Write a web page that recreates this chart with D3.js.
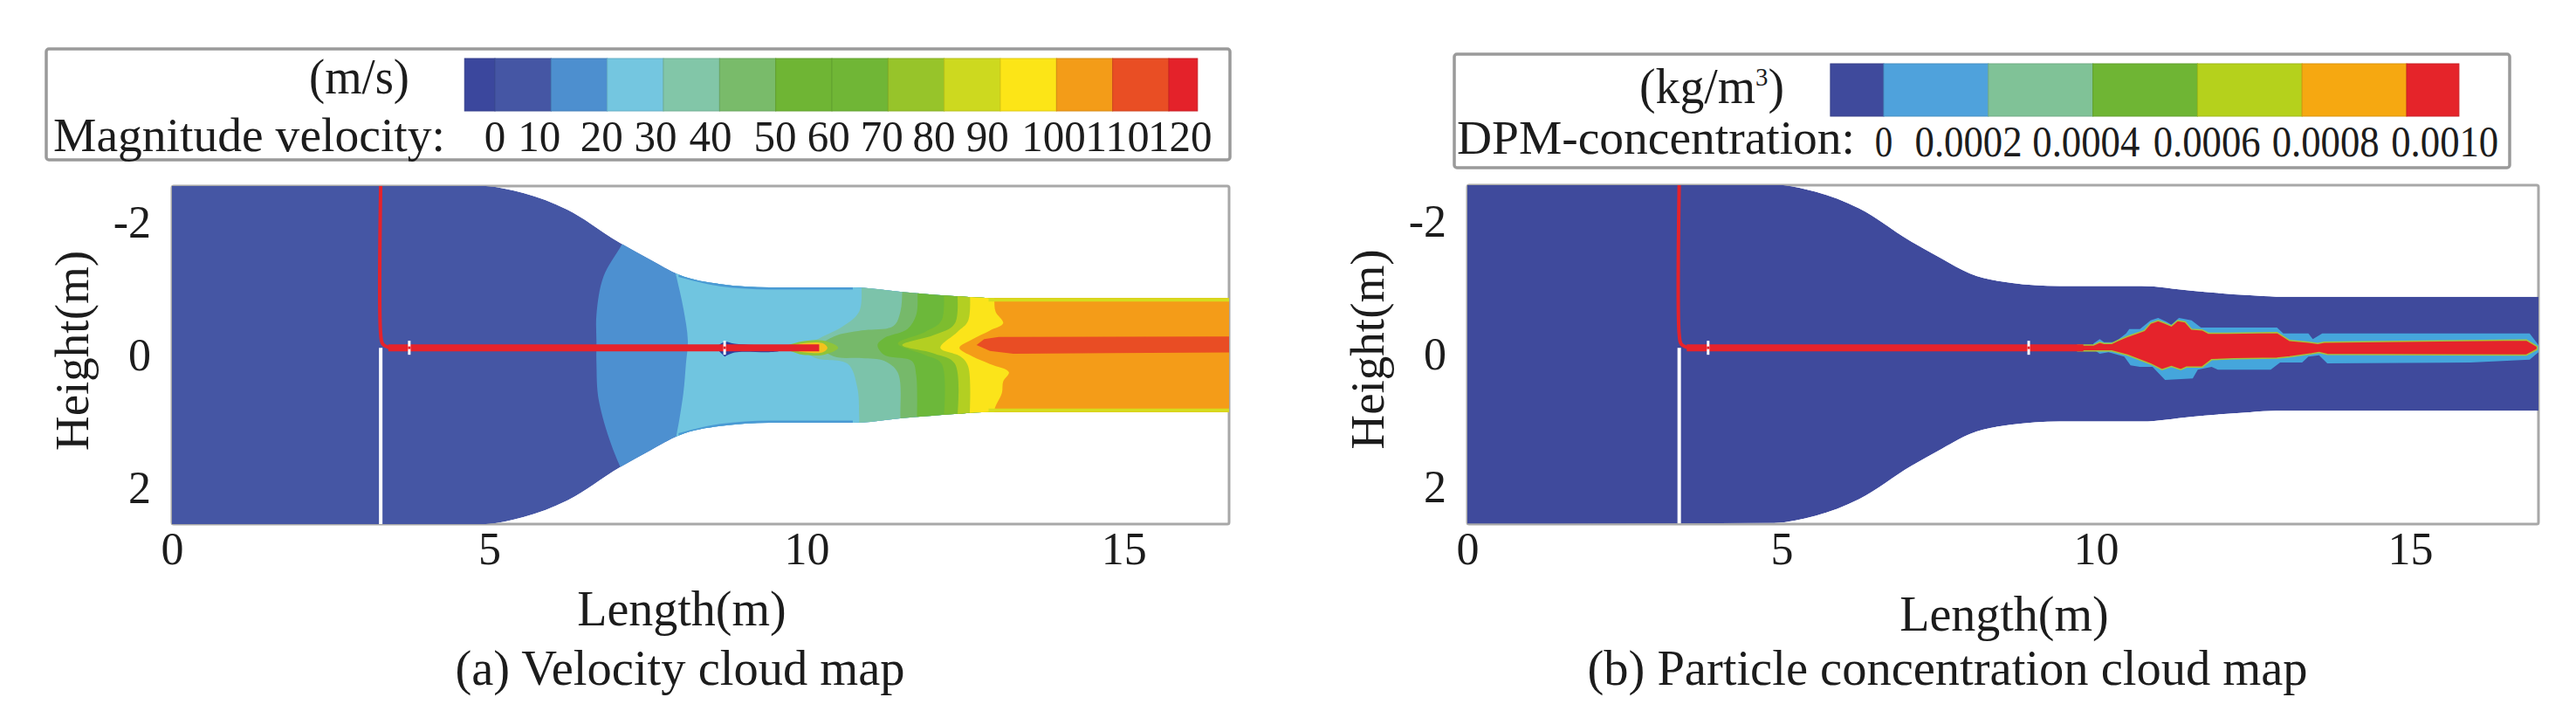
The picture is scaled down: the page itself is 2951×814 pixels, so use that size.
<!DOCTYPE html>
<html lang="en">
  <head>
    <meta charset="UTF-8" />
    <title>velocity and particle concentration cloud maps</title>
    <style>
      body { margin: 0; background: #fff; }
      text { font-family: "Liberation Serif", serif; fill: #1c1c1c; }
    </style>
  </head>
  <body>
    <svg id="svg" width="2951" height="814"></svg>

    <script src="https://d3js.org/d3.v7.min.js"></script>
    <script>
      // duct half height (m) along the length (m), same for both panels
      const wallLength = [0, 4.83, 5.54, 6.23, 7.06, 7.55, 7.99, 8.64, 9.42, 10.73, 11.51, 12.45, 12.87, 17.2];
      const wallHalf = [2.56, 2.55, 2.44, 2.19, 1.69, 1.43, 1.21, 1.07, 1.02, 1.02, 0.95, 0.88, 0.86, 0.86];

      // velocity legend
      const velocityBreaks = [-5.4, 0, 10, 20, 30, 40, 50, 60, 70, 80, 90, 100, 110, 120, 125.1];
      const velocityColors = ["#3b479d", "#4556a4", "#4d8fcf", "#74c6e0", "#82c6a8", "#79bb6a", "#6fb534", "#70b636", "#97c42a", "#cdd91f", "#fce517", "#f39c18", "#e94e24", "#e4222a"];
      const velocityLabels = ["0", "10", "20", "30", "40", "50", "60", "70", "80", "90", "100", "110", "120"];
      const velocityLabelAt = [0, 7.9, 19, 28.6, 38.4, 49.9, 59.4, 68.9, 78.2, 87.7, 99.5, 110.8, 122];

      // concentration legend
      const concBreaks = [-0.000102, 0, 0.0002, 0.0004, 0.0006, 0.0008, 0.001, 0.0011];
      const concColors = ["#3f4a9c", "#4fa2dc", "#80c297", "#6fb534", "#b5d11c", "#f6a811", "#e5242a"];
      const concLabels = ["0", "0.0002", "0.0004", "0.0006", "0.0008", "0.0010"];
      const concLabelAt = [0, 0.000162, 0.000387, 0.000618, 0.000845, 0.001073];

      // velocity contours [length, height], each one the start of a band going downstream
      const contour20 = [[7.4, -2.2], [7.09, -1.665], [6.8, -1.18], [6.69, -0.61], [6.69, -0.196], [6.69, 0.133], [6.73, 0.7], [7.05, 1.65], [7.4, 2.2]];
      const contour30 = [[7.85, -1.6], [7.95, -1.18], [8.06, -0.7], [8.13, -0.22], [8.1, 0.133], [8.06, 0.57], [7.95, 1.21], [7.85, 1.6]];
      const contour40 = [[10.87, -1.3], [10.87, -1.05], [10.83, -0.656], [10.58, -0.437], [10.22, -0.26], [9.93, -0.108], [10.15, 0.046], [10.65, 0.133], [10.8, 0.484], [10.83, 0.92], [10.83, 1.3]];
      const contour50 = [[11.51, -1.3], [11.51, -1], [11.48, -0.656], [11.37, -0.437], [10.87, -0.371], [10.44, -0.283], [10.22, -0.13], [10.44, 0.024], [10.87, 0.046], [11.23, 0.09], [11.44, 0.265], [11.48, 0.92], [11.48, 1.3]];
      const contour60 = [[11.75, -1.3], [11.75, -1], [11.73, -0.61], [11.59, -0.393], [11.23, -0.26], [11.12, -0.15], [11.23, 0], [11.66, 0.09], [11.73, 0.31], [11.73, 1.3]];
      const contour70 = [[12.13, -1.3], [12.13, -0.525], [11.87, -0.349], [11.44, -0.174], [11.87, 0], [12.13, 0.133], [12.13, 1.3]];
      const contour80 = [[12.34, -1.3], [12.34, -0.48], [12.02, -0.305], [11.51, -0.15], [12.02, -0.02], [12.34, 0.133], [12.34, 1.3]];
      const contour90 = [[12.55, -1.3], [12.55, -0.524], [12.38, -0.35], [12.11, -0.107], [12.43, 0.024], [12.55, 0.178], [12.55, 1.3]];
      const contour100 = [[12.96, -1.3], [12.96, -0.84], [12.98, -0.656], [13.1, -0.48], [12.89, -0.37], [12.62, -0.24], [12.41, -0.107], [12.62, 0.024], [12.89, 0.134], [13.19, 0.257], [13.1, 0.397], [13.08, 0.57], [12.96, 0.836], [12.96, 1.3]];
      const contours = [contour20, contour30, contour40, contour50, contour60, contour70, contour80, contour90, contour100];
      const contourColors = ["#4d90d0", "#70c5e0", "#7cc3aa", "#76b96a", "#6cb83a", "#7dbd2f", "#b3cf22", "#fbe41a", "#f49c18"];
      const jetCore = [[12.68, -0.151], [12.8, -0.24], [13.03, -0.274], [17.2, -0.28], [17.2, -0.042], [13.26, -0.02], [12.89, -0.063]];

      // what sits round the injector tip in the velocity map
      const spindle = [[8.57, -0.11], [8.71, -0.2], [8.87, -0.17], [9.5, -0.135], [9.75, -0.11], [9.5, -0.05], [8.87, -0.04], [8.71, 0.024]];
      const tipHalo = [[9.6, -0.11], [9.9, -0.2], [10.25, -0.22], [10.5, -0.11], [10.25, 0], [9.9, -0.01]];
      const tipGlow = [[9.7, -0.11], [9.9, -0.17], [10.25, -0.18], [10.33, -0.11], [10.25, -0.04], [9.9, -0.05]];

      // particle plume
      const plumeOuter = [[9.96, -0.153], [10.06, -0.219], [10.13, -0.175], [10.3, -0.175], [10.48, -0.307], [10.53, -0.373], [10.7, -0.373], [10.87, -0.504], [10.99, -0.539], [11.12, -0.482], [11.2, -0.438], [11.32, -0.539], [11.52, -0.504], [11.67, -0.394], [12.88, -0.394], [12.98, -0.307], [13.38, -0.307], [13.45, -0.219], [13.6, -0.307], [16.9, -0.307], [17.04, -0.131], [17.04, -0.022], [16.9, 0.088], [15.96, 0.132], [13.68, 0.145], [13.55, 0.022], [13.38, 0.044], [13.28, 0.132], [12.93, 0.132], [12.78, 0.241], [11.94, 0.241], [11.84, 0.197], [11.62, 0.241], [11.54, 0.373], [11.1, 0.395], [10.9, 0.197], [10.7, 0.197], [10.55, 0.175], [10.45, 0.044], [10.2, -0.022], [10.06, 0], [9.96, -0.066]];
      const plumeCore = [[9.71, -0.13], [9.96, -0.13], [10.06, -0.175], [10.13, -0.155], [10.25, -0.155], [10.35, -0.2], [10.5, -0.26], [10.65, -0.31], [10.77, -0.35], [10.87, -0.46], [10.99, -0.5], [11.1, -0.46], [11.2, -0.42], [11.3, -0.5], [11.42, -0.48], [11.52, -0.37], [11.69, -0.36], [11.79, -0.31], [12.09, -0.31], [12.88, -0.32], [12.98, -0.26], [13.08, -0.2], [13.38, -0.175], [13.53, -0.155], [13.63, -0.175], [16.85, -0.206], [17.02, -0.11], [17.02, -0.066], [16.85, 0.02], [13.68, 0.01], [13.55, -0.02], [13.43, 0], [13.08, 0.045], [12.88, 0.066], [12.19, 0.075], [11.84, 0.09], [11.69, 0.2], [11.44, 0.2], [11.35, 0.24], [11.2, 0.19], [11.05, 0.24], [10.87, 0.154], [10.5, 0.02], [10.25, -0.044], [10.06, -0.044], [9.71, -0.044]];

      const lengthTicks = [0, 5, 10, 15];
      const heightTicks = [-2, 0, 2];

      const svg = d3.select("#svg");

      function drawLegend(o) {
        const g = svg.append("g");
        g.append("rect")
          .attr("x", o.box[0]).attr("y", o.box[1])
          .attr("width", o.box[2]).attr("height", o.box[3])
          .attr("rx", 3)
          .attr("fill", "#fff").attr("stroke", "#9a9a9a").attr("stroke-width", 3.5);

        const scale = d3.scaleLinear().domain(o.domain).range(o.range);
        g.selectAll("rect.band")
          .data(o.colors)
          .enter()
          .append("rect")
          .attr("class", "band")
          .attr("x", (d, i) => scale(o.breaks[i]))
          .attr("width", (d, i) => scale(o.breaks[i + 1]) - scale(o.breaks[i]))
          .attr("y", o.barY)
          .attr("height", o.barH)
          .attr("fill", (d) => d)
          .attr("stroke", (d) => d3.color(d).darker(0.35))
          .attr("stroke-width", 1);

        g.selectAll("text.lab")
          .data(o.labels)
          .enter()
          .append("text")
          .attr("class", "lab")
          .attr("x", (d, i) => scale(o.labelAt[i]))
          .attr("y", o.labelY)
          .attr("text-anchor", "middle")
          .attr("font-size", 50)
          .attr("textLength", (d) => d.length * o.digitW)
          .attr("lengthAdjust", "spacingAndGlyphs")
          .text((d) => d);

        g.append("text")
          .attr("x", o.name[0]).attr("y", o.name[1])
          .attr("font-size", 54)
          .attr("textLength", o.name[2])
          .attr("lengthAdjust", "spacingAndGlyphs")
          .text(o.name[3]);

        return g;
      }

      drawLegend({
        box: [53, 56, 1356, 127],
        domain: [0, 120], range: [567, 1339],
        breaks: velocityBreaks, colors: velocityColors,
        labels: velocityLabels, labelAt: velocityLabelAt,
        barY: 67, barH: 60, labelY: 173, digitW: 24.5,
        name: [61, 173, 449, "Magnitude velocity:"],
      })
        .append("text")
        .attr("x", 354).attr("y", 107)
        .attr("font-size", 58)
        .attr("textLength", 115)
        .attr("lengthAdjust", "spacingAndGlyphs")
        .text("(m/s)");

      const concUnit = drawLegend({
        box: [1666, 62, 1209, 130],
        domain: [0, 0.001], range: [2158, 2757],
        breaks: concBreaks, colors: concColors,
        labels: concLabels, labelAt: concLabelAt,
        barY: 73, barH: 60, labelY: 179, digitW: 20.5,
        name: [1669, 176, 456, "DPM-concentration:"],
      })
        .append("text")
        .attr("x", 1878).attr("y", 118)
        .attr("font-size", 58)
        .attr("textLength", 166)
        .attr("lengthAdjust", "spacingAndGlyphs");
      concUnit.append("tspan").text("(kg/m");
      concUnit.append("tspan").attr("font-size", 30).attr("dy", -20).text("3");
      concUnit.append("tspan").attr("dy", 20).text(")");

      function drawPanel(o) {
        const x = d3.scaleLinear().domain(o.xDomain).range([o.left, o.right]);
        const y = d3.scaleLinear().domain([-1, 1]).range([o.mid - 76, o.mid + 76]);

        const wall = wallLength.map((d, i) => [d, wallHalf[i]]);
        const ductPath = d3
          .area()
          .x((d) => x(d[0]))
          .y0((d) => y(-d[1]))
          .y1((d) => y(d[1]))
          .curve(d3.curveMonotoneX)(wall);

        const g = svg.append("g");
        g.append("clipPath").attr("id", o.id + "-plot")
          .append("rect")
          .attr("x", o.left).attr("y", o.top)
          .attr("width", o.right - o.left).attr("height", o.bottom - o.top);
        g.append("clipPath").attr("id", o.id + "-duct")
          .attr("clip-path", `url(#${o.id}-plot)`)
          .append("path").attr("d", ductPath);

        g.append("rect")
          .attr("x", o.left).attr("y", o.top)
          .attr("width", o.right - o.left).attr("height", o.bottom - o.top)
          .attr("rx", 2)
          .attr("fill", "#fff").attr("stroke", "#a8a8a8").attr("stroke-width", 3);

        const inside = g.append("g").attr("clip-path", `url(#${o.id}-duct)`);
        inside.append("path").attr("d", ductPath).attr("fill", o.ductColor);

        o.paint(inside, x, y, wall);

        // injector: thin feed pipe, then the thick horizontal run
        const line = d3.line().x((d) => x(d[0])).y((d) => y(d[1]));
        inside.append("path")
          .attr("d", `M${x(o.pipeX)},${y(o.lineY)}V${o.bottom}`)
          .attr("stroke", "#fff").attr("stroke-width", 4);
        inside.append("path")
          .attr("d", line.curve(d3.curveCatmullRom)([[o.pipeX, -2.6], [o.pipeX, o.lineY - 0.2], [o.pipeX + 0.03, o.lineY - 0.06], [o.pipeX + 0.14, o.lineY]]))
          .attr("fill", "none").attr("stroke", "#e5232b").attr("stroke-width", 4);
        inside.append("path")
          .attr("d", line.curve(d3.curveLinear)([[o.pipeX + 0.12, o.lineY], [o.lineEnd, o.lineY]]))
          .attr("fill", "none").attr("stroke", "#e5232b").attr("stroke-width", 8);
        inside.selectAll("rect.mark")
          .data(o.markers)
          .enter()
          .append("rect")
          .attr("class", "mark")
          .attr("x", (d) => x(d) - 1.5)
          .attr("width", 3)
          .attr("y", y(o.lineY) - 8)
          .attr("height", 16)
          .attr("fill", "#fff");
        inside.selectAll("rect.markmid")
          .data(o.markers)
          .enter()
          .append("rect")
          .attr("class", "markmid")
          .attr("x", (d) => x(d) - 1.5)
          .attr("width", 3)
          .attr("y", y(o.lineY) - 1.5)
          .attr("height", 3)
          .attr("fill", "#e5232b");

        const xAxis = d3.axisBottom(x).tickValues(lengthTicks).tickSize(0).tickPadding(0).tickFormat(d3.format("d"));
        const xg = g.append("g").attr("transform", `translate(0,${o.bottom + 9})`).call(xAxis);
        const yAxis = d3.axisLeft(y).tickValues(heightTicks).tickSize(0).tickPadding(0).tickFormat((d) => String(d));
        const yg = g.append("g").attr("transform", `translate(${o.left - 24},0)`).call(yAxis);
        xg.select(".domain").remove();
        yg.select(".domain").remove();
        g.selectAll(".tick text").attr("font-size", 52).attr("font-family", "Liberation Serif").attr("fill", "#1c1c1c");
        xg.selectAll(".tick text").attr("dy", "0.72em");
        yg.selectAll(".tick text").attr("dy", "0.33em");

        g.append("text")
          .attr("transform", `translate(${o.left - 96},${o.mid - 5}) rotate(-90)`)
          .attr("text-anchor", "middle")
          .attr("font-size", 55)
          .text("Height(m)");
        g.append("text")
          .attr("x", o.lengthX).attr("y", o.lengthY)
          .attr("text-anchor", "middle")
          .attr("font-size", 56)
          .text("Length(m)");
        g.append("text")
          .attr("x", o.captionX).attr("y", 784)
          .attr("text-anchor", "middle")
          .attr("font-size", 56.5)
          .text(o.caption);
      }

      drawPanel({
        id: "a",
        left: 197, right: 1408, top: 213, bottom: 600, mid: 406.5,
        xDomain: [0, 16.66],
        ductColor: "#4556a4",
        lineY: -0.11, pipeX: 3.29, lineEnd: 10.2, markers: [3.74, 8.71],
        lengthX: 781, lengthY: 716, captionX: 779,
        caption: "(a) Velocity cloud map",
        paint(inside, x, y, wall) {
          const curve = d3.line().x((d) => x(d[0])).y((d) => y(d[1])).curve(d3.curveCatmullRom.alpha(0.5));
          const poly = d3.line().x((d) => x(d[0])).y((d) => y(d[1]));
          inside.selectAll("path.band")
            .data(contours)
            .enter()
            .append("path")
            .attr("class", "band")
            .attr("d", (d) => {
              const last = d[d.length - 1];
              return curve(d) + `L${x(18)},${y(last[1])}L${x(18)},${y(d[0][1])}Z`;
            })
            .attr("fill", (d, i) => contourColors[i]);
          inside.append("path").attr("d", poly(jetCore) + "Z").attr("fill", "#e94d24");

          // thin edge colours along the walls
          const edge = d3.line().x((d) => x(d[0])).y((d) => y(d[1])).curve(d3.curveMonotoneX);
          [[wall.filter((d) => d[0] >= 7.99 && d[0] <= 10.73), "#4a9ad4", 5], [wall.filter((d) => d[0] >= 12.87), "#d5dc1e", 8]].forEach(([part, c, w]) => {
            [-1, 1].forEach((s) => {
              inside.append("path")
                .attr("d", edge(part.map((d) => [d[0], s * d[1]])))
                .attr("fill", "none").attr("stroke", c).attr("stroke-width", w);
            });
          });

          inside.append("path").attr("d", curve(spindle) + "Z").attr("fill", "#2c3f9f");
          inside.append("path").attr("d", curve(tipHalo) + "Z").attr("fill", "#8fc43a");
          inside.append("path").attr("d", curve(tipGlow) + "Z").attr("fill", "#f3c31e");
        },
      });

      drawPanel({
        id: "b",
        left: 1681, right: 2908, top: 212, bottom: 600, mid: 405,
        xDomain: [0, 17.04],
        ductColor: "#3f4a9c",
        lineY: -0.09, pipeX: 3.37, lineEnd: 9.8, markers: [3.83, 8.93],
        lengthX: 2296, lengthY: 722, captionX: 2231,
        caption: "(b) Particle concentration cloud map",
        paint(inside, x, y) {
          const poly = d3.line().x((d) => x(d[0])).y((d) => y(d[1]));
          inside.append("path").attr("d", poly(plumeOuter) + "Z").attr("fill", "#45a6dc");
          inside.append("path").attr("d", poly(plumeCore) + "Z")
            .attr("fill", "#e5232b").attr("stroke", "#a8c23c").attr("stroke-width", 1.5);
        },
      });
    </script>
  </body>
</html>
